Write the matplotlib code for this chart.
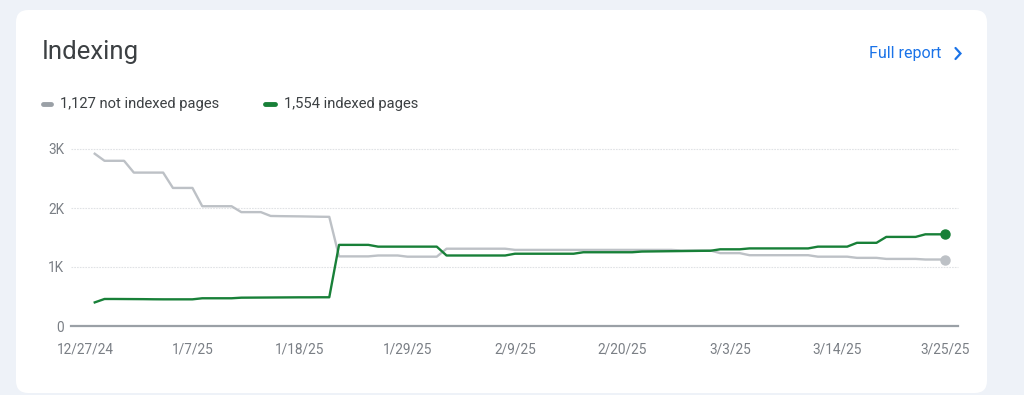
import matplotlib
matplotlib.use('Agg')
import matplotlib.pyplot as plt
import matplotlib.dates as mdates
from matplotlib.patches import FancyBboxPatch
from matplotlib.lines import Line2D
import pandas as pd

# Daily counts, 12/28/24 .. 3/25/25
dates = pd.date_range('2024-12-28', '2025-03-25', freq='D')

not_indexed = ([2920] + [2800] * 3 + [2600] * 4 + [2340] * 3 + [2030] * 4 + [1930] * 3
               + [1865, 1862, 1860, 1858, 1855, 1852, 1850]
               + [1180] * 4 + [1195] * 3 + [1175] * 4 + [1310] * 7 + [1290] * 17
               + [1280] * 4 + [1235] * 3 + [1200] * 7 + [1175] * 4 + [1155] * 3
               + [1137] * 4 + [1127] * 3)

indexed = ([400] + [458, 458, 457, 456, 455, 453, 452, 452, 452, 452] + [470] * 4
           + [480, 481, 482, 483, 484, 485, 486, 486, 487, 487]
           + [1375] * 4 + [1345] * 7 + [1195] * 7 + [1225] * 7 + [1250] * 6
           + [1262, 1264, 1266, 1268, 1270, 1272, 1274, 1275]
           + [1300] * 3 + [1315] * 7 + [1345] * 4 + [1410] * 3 + [1510] * 4 + [1554] * 3)

tick_dates = ['2024-12-27', '2025-01-07', '2025-01-18', '2025-01-29', '2025-02-09',
              '2025-02-20', '2025-03-03', '2025-03-14', '2025-03-25']
tick_labels = ['12/27/24', '1/7/25', '1/18/25', '1/29/25', '2/9/25',
               '2/20/25', '3/3/25', '3/14/25', '3/25/25']
y_ticks = [0, 1000, 2000, 3000]
y_labels = ['0', '1K', '2K', '3K']

legend_labels = ['1,127 not indexed pages', '1,554 indexed pages']

GRAY = '#bdc1c6'
GREEN = '#188038'
TEXT = '#3c4043'
MUTED = '#7a7f85'
BLUE = '#1a73e8'

plt.rcParams['font.family'] = ['Roboto', 'DejaVu Sans']

W, H = 1024, 395
fig = plt.figure(figsize=(W / 100, H / 100), dpi=100)
fig.patch.set_facecolor('#eef2f8')

# white card (behind the axes)
card = FancyBboxPatch((16 / W, (H - 393) / H), (987 - 16) / W, (393 - 10) / H,
                      boxstyle='round,pad=0,rounding_size=0.012',
                      transform=fig.transFigure, facecolor='white', edgecolor='none',
                      mutation_aspect=W / H, zorder=-10)
fig.patches.append(card)

fig.text(42 / W, 1 - 52 / H, 'Indexing', fontsize=18.5, color=TEXT, va='center', ha='left')
fig.text(941 / W, 1 - 53.5 / H, 'Full report', fontsize=11.5, color=BLUE, va='center', ha='right')
fig.add_artist(Line2D([955.5 / W, 960.5 / W, 955.5 / W],
                      [1 - 48 / H, 1 - 53.5 / H, 1 - 59 / H],
                      transform=fig.transFigure, color=BLUE, lw=1.6,
                      solid_capstyle='round', solid_joinstyle='miter'))

# legend
fig.add_artist(Line2D([43 / W, 51 / W], [1 - 104 / H] * 2, transform=fig.transFigure,
                      color='#9aa0a6', lw=3.5, solid_capstyle='round'))
fig.text(60 / W, 1 - 104 / H, legend_labels[0], fontsize=10.6, color=TEXT, va='center')
fig.add_artist(Line2D([265 / W, 275 / W], [1 - 104 / H] * 2, transform=fig.transFigure,
                      color=GREEN, lw=3.5, solid_capstyle='round'))
fig.text(284 / W, 1 - 104 / H, legend_labels[1], fontsize=10.6, color=TEXT, va='center')

# chart area
ax = fig.add_axes([71 / W, (H - 326) / H, (958 - 71) / W, (326 - 149) / H])
ax.set_facecolor('none')

ax.plot(dates, not_indexed, color=GRAY, lw=1.7, zorder=3)
ax.plot(dates, indexed, color=GREEN, lw=1.7, zorder=4)
ax.plot(dates[-1:], not_indexed[-1:], 'o', color=GRAY, ms=6.5, zorder=5, clip_on=False)
ax.plot(dates[-1:], indexed[-1:], 'o', color=GREEN, ms=6.5, zorder=5, clip_on=False)

ax.set_ylim(0, 3000)
start = pd.Timestamp('2024-12-27')
end = pd.Timestamp('2025-03-25')
ax.set_xlim(start - pd.Timedelta(days=1.43), end + pd.Timedelta(days=1.34))

ax.set_yticks(y_ticks)
ax.set_yticklabels(y_labels)
ax.set_xticks([mdates.date2num(pd.Timestamp(d)) for d in tick_dates])
ax.set_xticklabels(tick_labels)

for y in y_ticks[1:]:
    ax.axhline(y, color='#e0e2e5', lw=0.8, ls=(0, (1.5, 1)), zorder=1, clip_on=False)

for s in ['top', 'right', 'left']:
    ax.spines[s].set_visible(False)
ax.spines['bottom'].set_color('#9aa0a6')
ax.spines['bottom'].set_linewidth(1.6)
ax.tick_params(axis='both', length=0, labelsize=9.8, labelcolor=MUTED)
ax.tick_params(axis='y', pad=5)
ax.tick_params(axis='x', pad=12)

fig.savefig('out.png', dpi=100, facecolor=fig.get_facecolor())
